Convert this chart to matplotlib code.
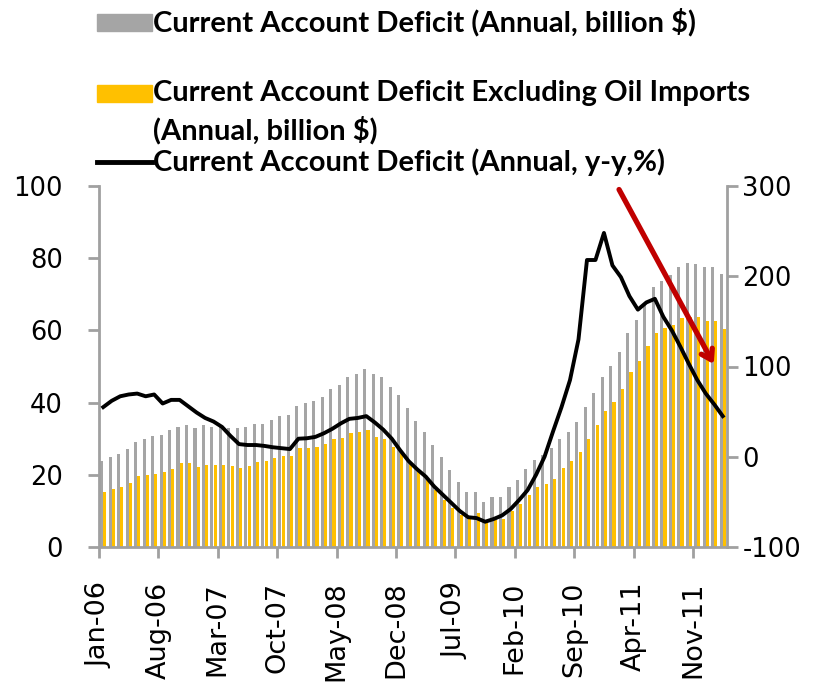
import matplotlib
matplotlib.use("Agg")
import matplotlib.pyplot as plt
import numpy as np
import pandas as pd
from matplotlib.patches import Rectangle
from matplotlib.lines import Line2D

# monthly, Jan-06 .. Feb-12
months = pd.date_range("2006-01-01", periods=74, freq="MS").strftime("%b-%y").tolist()

cad_total = [23.9, 25.0, 25.8, 27.1, 29.2, 30.0, 30.7, 31.0, 32.4, 33.3,
             33.8, 32.9, 33.8, 33.3, 33.2, 32.9, 32.9, 33.2, 34.1, 34.1,
             35.2, 36.3, 36.6, 39.1, 39.8, 40.5, 41.5, 43.7, 44.8, 47.0,
             47.9, 49.4, 47.9, 47.2, 44.2, 42.1, 38.4, 34.9, 31.8, 28.2,
             24.9, 21.4, 17.9, 15.3, 15.3, 12.6, 13.9, 13.9, 16.7, 18.6,
             21.5, 24.1, 25.5, 27.5, 29.8, 31.9, 34.7, 38.7, 42.7, 47.2,
             50.1, 53.9, 59.4, 62.9, 67.0, 71.9, 73.8, 75.3, 77.7, 78.8,
             78.3, 77.5, 77.5, 75.6]

cad_ex_oil = [15.3, 16.1, 16.7, 17.8, 19.7, 19.9, 20.3, 20.7, 21.6, 23.2,
              23.2, 22.1, 22.8, 22.7, 22.7, 22.4, 21.8, 22.4, 23.5, 23.9,
              24.6, 25.3, 25.3, 27.5, 27.5, 27.8, 28.5, 29.9, 30.3, 31.5,
              31.9, 32.4, 30.6, 29.8, 27.8, 26.4, 23.6, 21.1, 19.0, 15.8,
              13.0, 10.7, 8.9, 7.9, 9.3, 6.6, 7.5, 7.7, 10.0, 11.9,
              14.4, 16.5, 17.5, 18.9, 21.8, 23.9, 26.4, 29.9, 33.8, 37.7,
              40.3, 43.8, 48.4, 51.5, 55.8, 59.4, 60.8, 61.5, 63.5, 63.8,
              63.6, 62.6, 62.6, 60.4]

cad_yoy = [55, 62, 67, 69, 70, 67, 69, 59, 63, 63,
           56, 49, 43, 39, 33, 23, 14, 13, 13, 12,
           10.5, 9.5, 8.5, 20, 20.5, 22, 26, 31, 37, 42,
           43, 45, 38, 30, 20, 7, -5, -14, -22, -33,
           -42, -51, -60, -67, -68, -72, -69, -65, -58, -48,
           -37, -20, 0, 28, 55, 85, 130, 218, 218, 248,
           212, 199, 178, 163, 171, 175, 155, 140, 122, 103,
           85, 70, 58, 45]

GREY = "#a5a5a5"
GOLD = "#ffc000"
AXIS = "#a0a0a0"

plt.rcParams["axes.unicode_minus"] = False

fig = plt.figure(figsize=(8.18, 6.84), dpi=100)
ax = fig.add_axes([99 / 818, 1 - 547 / 684, 628 / 818, 361 / 684])
ax2 = ax.twinx()

x = np.arange(len(months))
ax.bar(x + 0.31, cad_total, width=0.36, color=GREY, linewidth=0)
ax.bar(x + 0.69, cad_ex_oil, width=0.37, color=GOLD, linewidth=0)
ax2.plot(x + 0.5, cad_yoy, color="black", linewidth=2.8)

ax.set_xlim(0, len(months))
ax.set_ylim(0, 100)
ax.set_yticks(range(0, 101, 20))
ax2.set_ylim(-100, 300)
ax2.set_yticks(range(-100, 301, 100))
ax.set_xticks(x[::7])
ax.set_xticklabels(months[::7], rotation=90)

for a in (ax, ax2):
    for s in a.spines.values():
        s.set_visible(False)
ax.spines["left"].set_visible(True)
ax.spines["bottom"].set_visible(True)
ax2.spines["right"].set_visible(True)
for s in (ax.spines["left"], ax.spines["bottom"], ax2.spines["right"]):
    s.set_color(AXIS)
    s.set_linewidth(2)

ax.tick_params(axis="y", direction="out", length=8, width=2, color=AXIS,
               labelsize=18.5, pad=18)
ax.tick_params(axis="x", direction="out", length=8, width=2, color=AXIS,
               labelsize=19.5, pad=17)
ax2.tick_params(axis="y", direction="out", length=8, width=2, color=AXIS,
                labelsize=18.5, pad=3)

ax2.annotate("", xy=(0.981, 0.50), xytext=(0.826, 0.997),
             xycoords="axes fraction", textcoords="axes fraction",
             arrowprops=dict(arrowstyle="->,head_length=0.7,head_width=0.45",
                             color="#c00000", lw=3.8),
             zorder=10, annotation_clip=False)

# legend drawn at the top, one entry per line
W, H = 818, 684
fig.add_artist(Rectangle((97 / W, 1 - 31 / H), 55 / W, 17 / H,
                         transform=fig.transFigure, color=GREY))
fig.add_artist(Rectangle((97 / W, 1 - 102 / H), 55 / W, 17 / H,
                         transform=fig.transFigure, color=GOLD))
fig.add_artist(Line2D([97 / W, 152 / W], [1 - 162 / H, 1 - 162 / H],
                      transform=fig.transFigure, color="black", linewidth=3.5))

lkw = dict(ha="left", va="center", fontsize=21, fontweight="bold",
           family=["Lato", "DejaVu Sans"])
fig.text(153 / W, 1 - 22 / H, "Current Account Deficit (Annual, billion $)", **lkw)
fig.text(153 / W, 1 - 93 / H, "Current Account Deficit Excluding Oil Imports", **lkw)
fig.text(153 / W, 1 - 130 / H, "(Annual, billion $)", **lkw)
fig.text(153 / W, 1 - 162 / H, "Current Account Deficit (Annual, y-y,%)", **lkw)

fig.savefig("out.png", dpi=100)
